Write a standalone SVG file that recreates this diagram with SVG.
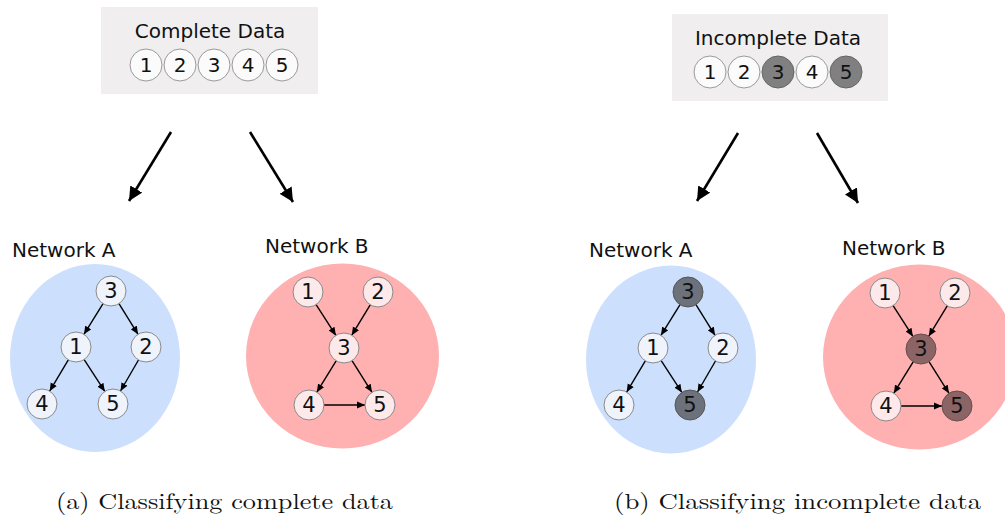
<svg xmlns="http://www.w3.org/2000/svg" width="1005" height="516" viewBox="0 0 1005 516">
<style>
.lbl{font-family:"DejaVu Sans","Verdana",sans-serif;font-size:20px;fill:#111}
.num{font-family:"DejaVu Sans","Verdana",sans-serif;font-size:21px;fill:#111;text-anchor:middle;dominant-baseline:central}
.dnum{font-family:"DejaVu Sans","Verdana",sans-serif;font-size:20px;fill:#111;text-anchor:middle;dominant-baseline:central}
.cap{font-family:"Latin Modern Roman","Liberation Serif",serif;font-size:22px;fill:#111}
.box{fill:#f0eeef}
.dc{fill:#fbfbfb;stroke:#9a9a9a;stroke-width:1}
.dd{fill:#808080;stroke:#666;stroke-width:1}
.ea{fill:#cce0fd}
.eb{fill:#ffb0b1}
.na{fill:#eef3fc;stroke:#8a8a8a;stroke-width:1}
.nb{fill:#fde9e9;stroke:#8a8a8a;stroke-width:1}
.nad{fill:#6c717b;stroke:#555;stroke-width:1}
.nbd{fill:#8b6565;stroke:#6a4c4c;stroke-width:1}
.e{stroke:#000;stroke-width:1.4;fill:none;marker-end:url(#sa)}
.big{stroke:#000;stroke-width:2.6;fill:none;marker-end:url(#ba)}
</style>
<defs>
<marker id="sa" markerUnits="userSpaceOnUse" markerWidth="9" markerHeight="8" refX="8" refY="4" orient="auto"><path d="M0,0.5 L8,4 L0,7.5 z" fill="#000"/></marker>
<marker id="ba" markerUnits="userSpaceOnUse" markerWidth="16" markerHeight="14" refX="14" refY="7" orient="auto"><path d="M0,0 L14,7 L0,14 z" fill="#000"/></marker>
</defs>
<rect width="1005" height="516" fill="#fff"/>

<g id="complete-data">
<rect class="box" x="101" y="7" width="217" height="87"/>
<text class="lbl" x="210" y="38" text-anchor="middle">Complete Data</text>
<circle class="dc" cx="146" cy="65" r="16"/><text class="dnum" x="146" y="65">1</text>
<circle class="dc" cx="180" cy="65" r="16"/><text class="dnum" x="180" y="65">2</text>
<circle class="dc" cx="214" cy="65" r="16"/><text class="dnum" x="214" y="65">3</text>
<circle class="dc" cx="248" cy="65" r="16"/><text class="dnum" x="248" y="65">4</text>
<circle class="dc" cx="282" cy="65" r="16"/><text class="dnum" x="282" y="65">5</text>
</g>

<g id="incomplete-data">
<rect class="box" x="672" y="14" width="216" height="87"/>
<text class="lbl" x="778" y="45" text-anchor="middle">Incomplete Data</text>
<circle class="dc" cx="710" cy="72" r="16"/><text class="dnum" x="710" y="72">1</text>
<circle class="dc" cx="744" cy="72" r="16"/><text class="dnum" x="744" y="72">2</text>
<circle class="dd" cx="778" cy="72" r="16"/><text class="dnum" x="778" y="72">3</text>
<circle class="dc" cx="812" cy="72" r="16"/><text class="dnum" x="812" y="72">4</text>
<circle class="dd" cx="846" cy="72" r="16"/><text class="dnum" x="846" y="72">5</text>
</g>

<g id="big-arrows">
<line class="big" x1="171" y1="132" x2="129" y2="201"/>
<line class="big" x1="250" y1="132" x2="293" y2="202"/>
<line class="big" x1="738" y1="133" x2="697" y2="201"/>
<line class="big" x1="817" y1="133" x2="858" y2="203"/>
</g>

<g id="networkA-complete">
<text class="lbl" x="12" y="257">Network A</text>
<ellipse class="ea" cx="95" cy="358" rx="85" ry="94"/>
<g class="connectors">
<line class="e" x1="103.05" y1="303.72" x2="83.95" y2="334.28"/>
<line class="e" x1="118.95" y1="303.72" x2="138.05" y2="334.28"/>
<line class="e" x1="68.32" y1="359.88" x2="49.68" y2="391.12"/>
<line class="e" x1="84.17" y1="359.58" x2="104.83" y2="391.42"/>
<line class="e" x1="138.48" y1="359.98" x2="120.52" y2="391.02"/>
</g>
<g id="A1-n3"><circle class="na" cx="111" cy="291" r="15"/><text class="num" x="111" y="291">3</text></g>
<g id="A1-n1"><circle class="na" cx="76" cy="347" r="15"/><text class="num" x="76" y="347">1</text></g>
<g id="A1-n2"><circle class="na" cx="146" cy="347" r="15"/><text class="num" x="146" y="347">2</text></g>
<g id="A1-n4"><circle class="na" cx="42" cy="404" r="15"/><text class="num" x="42" y="404">4</text></g>
<g id="A1-n5"><circle class="na" cx="113" cy="404" r="15"/><text class="num" x="113" y="404">5</text></g>
</g>

<g id="networkB-complete">
<text class="lbl" x="265" y="253">Network B</text>
<ellipse class="eb" cx="342.5" cy="356" rx="96.5" ry="92.5"/>
<g class="connectors">
<line class="e" x1="316.11" y1="304.62" x2="335.89" y2="335.38"/>
<line class="e" x1="370.22" y1="304.82" x2="351.78" y2="335.18"/>
<line class="e" x1="336.15" y1="360.78" x2="316.85" y2="392.22"/>
<line class="e" x1="352.01" y1="360.68" x2="371.99" y2="392.32"/>
<line class="e" x1="324" y1="405" x2="365" y2="405"/>
</g>
<g id="B1-n1"><circle class="nb" cx="308" cy="292" r="15"/><text class="num" x="308" y="292">1</text></g>
<g id="B1-n2"><circle class="nb" cx="378" cy="292" r="15"/><text class="num" x="378" y="292">2</text></g>
<g id="B1-n3"><circle class="nb" cx="344" cy="348" r="15"/><text class="num" x="344" y="348">3</text></g>
<g id="B1-n4"><circle class="nb" cx="309" cy="405" r="15"/><text class="num" x="309" y="405">4</text></g>
<g id="B1-n5"><circle class="nb" cx="380" cy="405" r="15"/><text class="num" x="380" y="405">5</text></g>
</g>

<g id="networkA-incomplete" transform="translate(577,1)">
<text class="lbl" x="12" y="256">Network A</text>
<ellipse class="ea" cx="94" cy="358.5" rx="85" ry="94"/>
<g class="connectors">
<line class="e" x1="103.05" y1="303.72" x2="83.95" y2="334.28"/>
<line class="e" x1="118.95" y1="303.72" x2="138.05" y2="334.28"/>
<line class="e" x1="68.32" y1="359.88" x2="49.68" y2="391.12"/>
<line class="e" x1="84.17" y1="359.58" x2="104.83" y2="391.42"/>
<line class="e" x1="138.48" y1="359.98" x2="120.52" y2="391.02"/>
</g>
<g id="A2-n3"><circle class="nad" cx="111" cy="291" r="15"/><text class="num" x="111" y="291">3</text></g>
<g id="A2-n1"><circle class="na" cx="76" cy="347" r="15"/><text class="num" x="76" y="347">1</text></g>
<g id="A2-n2"><circle class="na" cx="146" cy="347" r="15"/><text class="num" x="146" y="347">2</text></g>
<g id="A2-n4"><circle class="na" cx="42" cy="404" r="15"/><text class="num" x="42" y="404">4</text></g>
<g id="A2-n5"><circle class="nad" cx="113" cy="404" r="15"/><text class="num" x="113" y="404">5</text></g>
</g>

<g id="networkB-incomplete" transform="translate(577,1)">
<text class="lbl" x="265" y="254">Network B</text>
<ellipse class="eb" cx="342.5" cy="356" rx="96.5" ry="92.5"/>
<g class="connectors">
<line class="e" x1="316.11" y1="304.62" x2="335.89" y2="335.38"/>
<line class="e" x1="370.22" y1="304.82" x2="351.78" y2="335.18"/>
<line class="e" x1="336.15" y1="360.78" x2="316.85" y2="392.22"/>
<line class="e" x1="352.01" y1="360.68" x2="371.99" y2="392.32"/>
<line class="e" x1="324" y1="405" x2="365" y2="405"/>
</g>
<g id="B2-n1"><circle class="nb" cx="308" cy="292" r="15"/><text class="num" x="308" y="292">1</text></g>
<g id="B2-n2"><circle class="nb" cx="378" cy="292" r="15"/><text class="num" x="378" y="292">2</text></g>
<g id="B2-n3"><circle class="nbd" cx="344" cy="348" r="15"/><text class="num" x="344" y="348">3</text></g>
<g id="B2-n4"><circle class="nb" cx="309" cy="405" r="15"/><text class="num" x="309" y="405">4</text></g>
<g id="B2-n5"><circle class="nbd" cx="380" cy="405" r="15"/><text class="num" x="380" y="405">5</text></g>
</g>

<g id="captions">
<text class="cap" x="56" y="509" textLength="337" lengthAdjust="spacingAndGlyphs">(a) Classifying complete data</text>
<text class="cap" x="614" y="509" textLength="367" lengthAdjust="spacingAndGlyphs">(b) Classifying incomplete data</text>
</g>
</svg>
